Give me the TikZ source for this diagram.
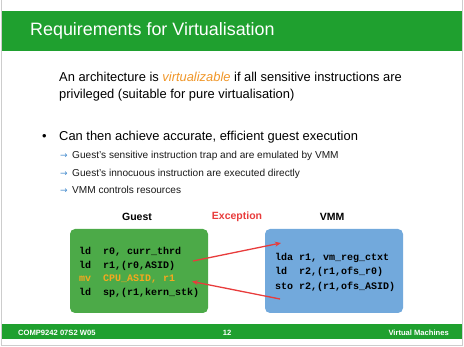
\documentclass[tikz,border=0pt]{standalone}
\usepackage{fontspec}
\setmainfont{Liberation Sans}
\setmonofont{Liberation Mono}
\newfontfamily\symfont{DejaVu Sans}
\usetikzlibrary{arrows.meta}

\definecolor{slidegreen}{RGB}{31,160,47}
\definecolor{guestgreen}{RGB}{76,170,72}
\definecolor{vmmblue}{RGB}{114,169,220}
\definecolor{excred}{RGB}{232,60,60}
\definecolor{hiorange}{RGB}{240,150,40}
\definecolor{codeorange}{RGB}{245,168,30}
\definecolor{pointerblue}{RGB}{70,140,205}
\definecolor{framegray}{RGB}{205,205,205}
\definecolor{textdark}{RGB}{25,25,25}

\begin{document}
\begin{tikzpicture}[x=1pt,y=-1pt,
  txt/.style={anchor=base west,inner sep=0pt,text=black},
  body/.style={txt,font=\fontsize{12.9}{15}\selectfont},
  sub/.style={txt,font=\fontsize{10.1}{12}\selectfont,text=textdark},
  pointer/.style={txt,font=\symfont\fontsize{9}{11}\selectfont,text=pointerblue},
  code/.style={txt,font=\ttfamily\bfseries\fontsize{10}{12}\selectfont},
  boxlabel/.style={anchor=base,inner sep=0pt,font=\bfseries\fontsize{10.5}{12}\selectfont},
  footer/.style={inner sep=0pt,font=\bfseries\fontsize{7.6}{9}\selectfont,text=white},
  codebox/.style={rounded corners=5pt,inner sep=0pt,minimum width=138pt,minimum height=84pt},
  trap/.style={draw=excred,line width=1.3pt,-{Stealth[length=6pt,width=5pt]}}
]
\useasboundingbox (0,0) rectangle (464,347);

% slide frame
\draw[framegray,line width=1pt] (1.5,-5) rectangle (462.5,346);

% title and footer bars
\fill[slidegreen] (2,11) rectangle (462,51);
\fill[slidegreen] (2,324) rectangle (462,339);
\node[txt,text=white,font=\fontsize{17.9}{20}\selectfont] (title) at (30,36) {Requirements for Virtualisation};

% body text
\node[body] (l1) at (59,82) {An architecture is \textcolor{hiorange}{\itshape virtualizable} if all sensitive instructions are};
\node[body] (l2) at (59,99) {privileged (suitable for pure virtualisation)};
\node[body] (dot) at (42,141) {•};
\node[body] (b1) at (59,141) {Can then achieve accurate, efficient guest execution};
\node[pointer] (p1) at (60,159) {→};
\node[sub] (s1) at (72,159) {Guest’s sensitive instruction trap and are emulated by VMM};
\node[pointer] (p2) at (60,176.5) {→};
\node[sub] (s2) at (72,176.5) {Guest’s innocuous instruction are executed directly};
\node[pointer] (p3) at (60,194) {→};
\node[sub] (s3) at (72,194) {VMM controls resources};

% code boxes
\node[codebox,fill=guestgreen] (guest) at (139,271) {};
\node[codebox,fill=vmmblue] (vmm) at (334,271) {};
\node[boxlabel] (guestlbl) at (137,221) {Guest};
\node[boxlabel] (vmmlbl) at (332,221) {VMM};
\node[boxlabel,text=excred] (exclbl) at (237,220) {Exception};

\node[code] (g1) at (79,255) {ld\ \ r0, curr\_thrd};
\node[code] (g2) at (79,268.5) {ld\ \ r1,(r0,ASID)};
\node[code,text=codeorange] (g3) at (79,282) {mv\ \ CPU\_ASID, r1};
\node[code] (g4) at (79,295.5) {ld\ \ sp,(r1,kern\_stk)};

\node[code] (v1) at (275,261) {lda r1, vm\_reg\_ctxt};
\node[code] (v2) at (275,274.5) {ld\ \ r2,(r1,ofs\_r0)};
\node[code] (v3) at (275,289.5) {sto r2,(r1,ofs\_ASID)};

% trap into the monitor and return to the guest
\coordinate (trapout) at (193,261);
\coordinate (trapin) at (281,243);
\coordinate (retout) at (280,299);
\coordinate (retin) at (192,281.5);
\draw[trap] (trapout) -- (trapin);
\draw[trap] (retout) -- (retin);

% footer text
\node[footer,anchor=base west] (course) at (18,336) {COMP9242 07S2 W05};
\node[footer,anchor=base] (page) at (227,336) {12};
\node[footer,anchor=base east] (topic) at (449,336) {Virtual Machines};
\end{tikzpicture}
\end{document}
